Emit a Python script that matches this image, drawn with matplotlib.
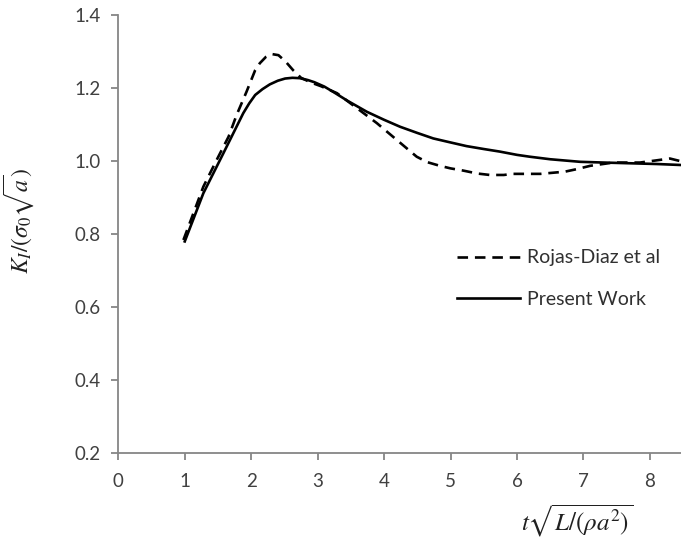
import numpy as np
import matplotlib
matplotlib.use('Agg')
from matplotlib import pyplot as plt

# normalised time and stress intensity factor
rojas_t = [0.98, 1.28, 1.48, 1.66, 1.78, 1.93, 2.06, 2.13, 2.22, 2.31, 2.41,
           2.52, 2.63, 2.75, 2.9, 3.05, 3.29, 3.59, 3.89, 4.19, 4.49, 4.65,
           4.84, 5.0, 5.19, 5.4, 5.59, 5.8, 5.94, 6.35, 6.72, 6.9, 7.10, 7.45,
           7.85, 8.10, 8.30, 8.50]
rojas_k = [0.784, 0.93, 1.003, 1.067, 1.126, 1.19, 1.249, 1.268, 1.285, 1.293,
           1.29, 1.272, 1.249, 1.228, 1.215, 1.205, 1.186, 1.145, 1.104,
           1.058, 1.012, 0.997, 0.987, 0.980, 0.974, 0.966, 0.962, 0.962,
           0.965, 0.965, 0.971, 0.978, 0.987, 0.996, 0.996, 1.002, 1.007,
           0.998]

present_t = [1.0, 1.28, 1.58, 1.88, 1.97, 2.06, 2.17, 2.28, 2.4, 2.51, 2.62,
             2.73, 2.85, 2.95, 3.1, 3.23, 3.45, 3.74, 4.0, 4.24, 4.5, 4.74,
             5.0, 5.24, 5.5, 5.74, 6.0, 6.19, 6.5, 6.95, 7.3, 7.70, 8.1, 8.5]
present_k = [0.78, 0.912, 1.021, 1.131, 1.158, 1.181, 1.197, 1.210, 1.220,
             1.226, 1.228, 1.227, 1.222, 1.216, 1.204, 1.19, 1.165, 1.135,
             1.113, 1.094, 1.077, 1.062, 1.051, 1.041, 1.033, 1.026, 1.017,
             1.012, 1.005, 0.998, 0.996, 0.994, 0.992, 0.989]

x_ticks = [0, 1, 2, 3, 4, 5, 6, 7, 8]
y_ticks = [0.2, 0.4, 0.6, 0.8, 1.0, 1.2, 1.4]

plt.rcParams['font.family'] = ['Lato', 'DejaVu Sans']
plt.rcParams['mathtext.fontset'] = 'stix'

fig = plt.figure(figsize=(6.81, 5.45), dpi=100)
ax = fig.add_axes([0.1737, 0.1683, 0.8295, 0.8042])

ax.plot(rojas_t, rojas_k, color='black', linewidth=1.9,
        linestyle=(0, (4, 2.6)), label='Rojas-Diaz et al',
        solid_joinstyle='round', dash_joinstyle='round')
ax.plot(present_t, present_k, color='black', linewidth=1.9,
        linestyle='-', label='Present Work', solid_joinstyle='round')

ax.set_xlim(0, 8.5)
ax.set_ylim(0.2, 1.4)
ax.set_xticks(x_ticks)
ax.set_yticks(y_ticks)
ax.set_yticklabels([f'{v:.1f}' for v in y_ticks])

for side in ['top', 'right']:
    ax.spines[side].set_visible(False)
for side in ['left', 'bottom']:
    ax.spines[side].set_color('#868686')
    ax.spines[side].set_linewidth(1.3)
ax.tick_params(axis='both', direction='out', length=5, width=1.3,
               color='#868686', labelsize=13.5, labelcolor='#404040')
ax.tick_params(axis='x', pad=9)
ax.tick_params(axis='y', pad=8)

ax.set_ylabel(r'$K_I/(\sigma_0\sqrt{a})$', fontsize=17, color='#202020')
ax.yaxis.set_label_coords(-0.145, 0.53)
fig.text(0.848, 0.045, r'$t\sqrt{L/(\rho a^2)}$', fontsize=18,
         color='#202020', ha='center', va='center')

leg = ax.legend(loc='center left', bbox_to_anchor=(0.5996, 0.398),
                frameon=False, fontsize=14, handlelength=3.25,
                handletextpad=0.36, labelspacing=1.27, borderaxespad=0,
                borderpad=0)
for text in leg.get_texts():
    text.set_color('#303030')

plt.savefig('out.png', dpi=100)
